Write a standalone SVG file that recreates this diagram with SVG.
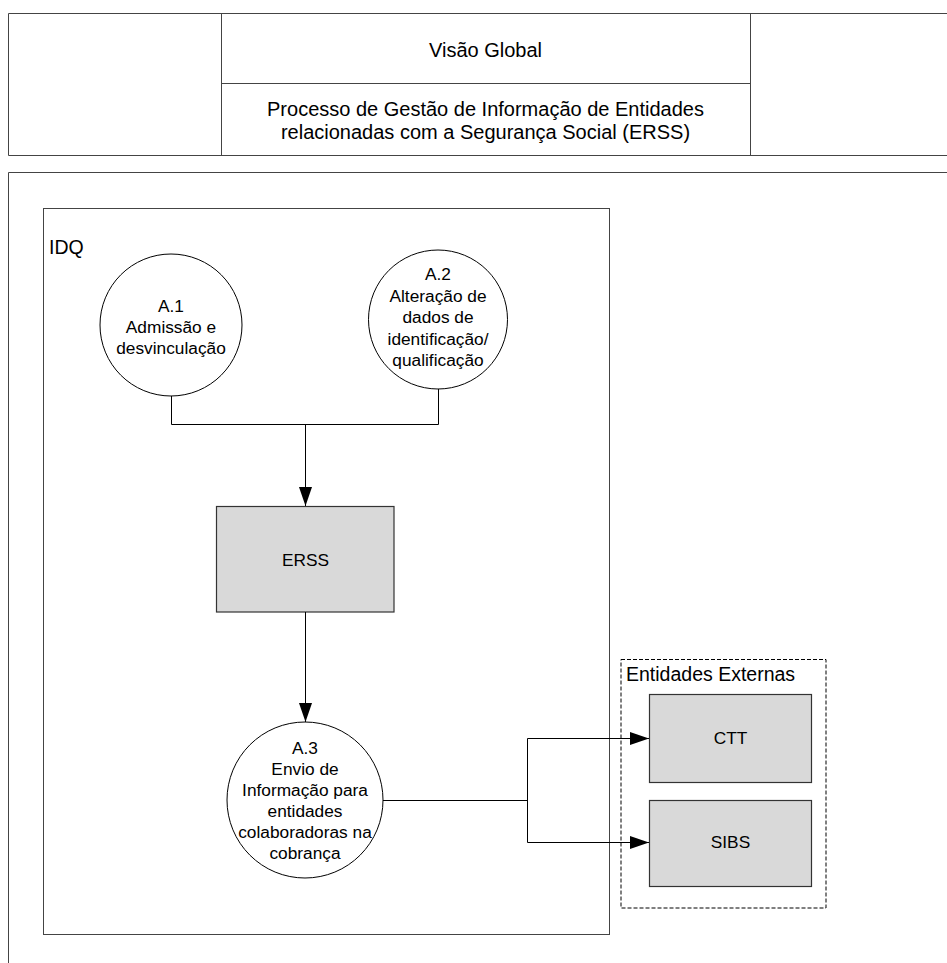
<svg xmlns="http://www.w3.org/2000/svg" width="947" height="963" viewBox="0 0 947 963">
<defs>
<style>
text{font-family:"Liberation Sans",Arial,sans-serif;fill:#000}
.t{font-size:17.3px;text-anchor:middle}
.h{font-size:20px;text-anchor:middle}
.lbl{font-size:19.5px}
.frame{fill:none;stroke:#444;stroke-width:1}
.proc{fill:#fff;stroke:#000;stroke-width:1}
.ent{fill:#d9d9d9;stroke:#333;stroke-width:1.2}
.con{fill:none;stroke:#000;stroke-width:1}
</style>
<marker id="arr" viewBox="0 0 19 13" refX="19" refY="6.5" markerWidth="19" markerHeight="13" markerUnits="userSpaceOnUse" orient="auto">
<path d="M0,0 L19,6.5 L0,13 Z" fill="#000"/>
</marker>
</defs>
<rect width="947" height="963" fill="#fff"/>
<g id="header">
<path class="frame" d="M960,13.5 H8.5 V155.5 H960"/>
<line class="frame" x1="221.5" y1="13.5" x2="221.5" y2="155.5"/>
<line class="frame" x1="750.5" y1="13.5" x2="750.5" y2="155.5"/>
<line class="frame" x1="221.5" y1="83.5" x2="750.5" y2="83.5"/>
<text class="h" x="485.5" y="57">Visão Global</text>
<text class="h" x="485.5" y="116">Processo de Gestão de Informação de Entidades</text>
<text class="h" x="485.5" y="139">relacionadas com a Segurança Social (ERSS)</text>
</g>
<g id="page-frame">
<path class="frame" d="M960,172.5 H8.5 V970"/>
</g>
<g id="IDQ">
<rect class="frame" x="43.5" y="208.5" width="566" height="726" stroke="#222"/>
<text class="lbl" x="49" y="254">IDQ</text>
</g>
<g id="A1">
<circle class="proc" cx="171" cy="325" r="71"/>
<text class="t" x="171" y="312">A.1</text>
<text class="t" x="171" y="333">Admissão e</text>
<text class="t" x="171" y="354">desvinculação</text>
</g>
<g id="A2">
<circle class="proc" cx="438" cy="319.5" r="69.5"/>
<text class="t" x="438" y="280">A.2</text>
<text class="t" x="438" y="301.5">Alteração de</text>
<text class="t" x="438" y="323">dados de</text>
<text class="t" x="438" y="344.5">identificação/</text>
<text class="t" x="438" y="366">qualificação</text>
</g>
<g id="ERSS">
<rect class="ent" x="216.5" y="506.5" width="177.5" height="105.5"/>
<text class="t" x="305.5" y="565.5">ERSS</text>
</g>
<g id="A3">
<circle class="proc" cx="305" cy="800" r="78"/>
<text class="t" x="305" y="753.5">A.3</text>
<text class="t" x="305" y="774.5">Envio de</text>
<text class="t" x="305" y="795.5">Informação para</text>
<text class="t" x="305" y="816.5">entidades</text>
<text class="t" x="305" y="837.5">colaboradoras na</text>
<text class="t" x="305" y="858.5">cobrança</text>
</g>
<g id="externas">
<rect x="621" y="659.5" width="205" height="248.5" fill="none" stroke="#000" stroke-width="1" stroke-dasharray="4,2"/>
<text class="lbl" x="626" y="681">Entidades Externas</text>
</g>
<g id="CTT">
<rect class="ent" x="649.5" y="694.5" width="162" height="88"/>
<text class="t" x="730.5" y="744">CTT</text>
</g>
<g id="SIBS">
<rect class="ent" x="649.5" y="800.5" width="162" height="86"/>
<text class="t" x="730.5" y="848">SIBS</text>
</g>
<g id="connectors">
<path class="con" d="M171.5,396 V424.5 H438.5 V389"/>
<path class="con" d="M305.5,424.5 V506" marker-end="url(#arr)"/>
<path class="con" d="M305.5,612 V722" marker-end="url(#arr)"/>
<path class="con" d="M383,800.5 H527.5"/>
<path class="con" d="M527.5,738.5 V842.5"/>
<path class="con" d="M527.5,738.5 H649" marker-end="url(#arr)"/>
<path class="con" d="M527.5,842.5 H649" marker-end="url(#arr)"/>
</g>
</svg>
